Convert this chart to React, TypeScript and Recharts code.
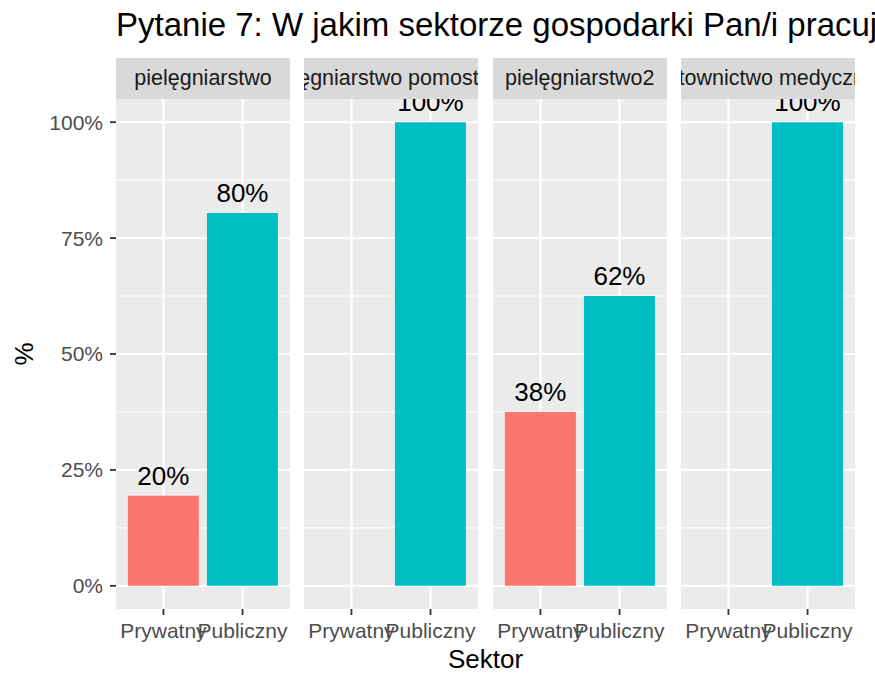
import { BarChart, Bar, XAxis, YAxis, CartesianGrid, Cell, LabelList } from 'recharts';

const FONT = '"Liberation Sans", Arial, Helvetica, sans-serif';

const title = 'Pytanie 7: W jakim sektorze gospodarki Pan/i pracuje?';
const xTitle = 'Sektor';
const yTitle = '%';

const panels = ['pielęgniarstwo', 'pielęgniarstwo pomostowe', 'pielęgniarstwo2', 'ratownictwo medyczne'];
const sectors = ['Prywatny', 'Publiczny'];
const sectorColors = ['#F8766D', '#00BFC4'];

// share (%) per panel
const prywatny: (number | null)[] = [19.4, null, 37.5, null];
const publiczny: (number | null)[] = [80.4, 100, 62.5, 100];
const prywatnyLabels = ['20%', '', '38%', ''];
const publicznyLabels = ['80%', '100%', '62%', '100%'];

const yTicks = [0, 25, 50, 75, 100];
const yMinor = [12.5, 37.5, 62.5, 87.5];

const PANEL_W = 174;
const PANEL_STEP = 188.4;
const PANEL_X0 = 116;
const STRIP_TOP = 58;
const STRIP_H = 41;
const PLOT_H = 510;
const XAXIS_H = 40;
const X_PAD = 7.9;

// vertical grid lines through the middle of each category band
function vGrid({ offset }: any) {
  const bw = (offset.width - 2 * X_PAD) / sectors.length;
  return sectors.map((_, i) => offset.left + X_PAD + bw * (i + 0.5));
}

function Panel({ index }: { index: number }) {
  const first = index === 0;
  const rows = sectors.map((sector, i) => ({
    sector,
    value: i === 0 ? prywatny[index] : publiczny[index],
    label: i === 0 ? prywatnyLabels[index] : publicznyLabels[index]
  }));
  const left = PANEL_X0 + index * PANEL_STEP;
  const chartLeft = first ? 0 : left;
  const width = first ? PANEL_X0 + PANEL_W : PANEL_W;

  return (
    <>
      <div style={{ position: 'absolute', left: chartLeft, top: STRIP_TOP }}>
        <BarChart
          width={width}
          height={STRIP_H + PLOT_H + XAXIS_H}
          data={rows}
          margin={{ top: STRIP_H, right: 0, bottom: 0, left: 0 }}
          barCategoryGap="5%"
        >
          <CartesianGrid
            fill="#EBEBEB"
            stroke="#FFFFFF"
            strokeWidth={1.1}
            vertical={false}
            horizontalValues={yMinor}
          />
          <CartesianGrid
            stroke="#FFFFFF"
            strokeWidth={2.2}
            horizontalValues={yTicks}
            verticalCoordinatesGenerator={vGrid}
          />
          <XAxis
            dataKey="sector"
            type="category"
            interval={0}
            height={XAXIS_H}
            padding={{ left: X_PAD, right: X_PAD }}
            axisLine={false}
            tickLine={{ stroke: '#333333', strokeWidth: 1.8 }}
            tickSize={6}
            tickMargin={8}
            tick={{ fontSize: 21, fill: '#4D4D4D', fontFamily: FONT }}
          />
          <YAxis
            hide={!first}
            width={first ? PANEL_X0 : 0}
            type="number"
            domain={[-5, 105]}
            ticks={yTicks}
            tickFormatter={(v) => `${v}%`}
            axisLine={false}
            tickLine={{ stroke: '#333333', strokeWidth: 1.8 }}
            tickSize={6}
            tickMargin={7}
            tick={{ fontSize: 21, fill: '#4D4D4D', fontFamily: FONT }}
          />
          <Bar dataKey="value" isAnimationActive={false}>
            {rows.map((r, i) => (
              <Cell key={r.sector} fill={sectorColors[i]} />
            ))}
            <LabelList
              dataKey="label"
              position="top"
              offset={11}
              fill="#000000"
              fontSize={26}
              fontFamily={FONT}
            />
          </Bar>
        </BarChart>
      </div>
      <div
        style={{
          position: 'absolute',
          left,
          top: STRIP_TOP,
          width: PANEL_W,
          height: STRIP_H,
          background: '#D9D9D9',
          display: 'flex',
          alignItems: 'center',
          justifyContent: 'center',
          overflow: 'hidden',
          whiteSpace: 'nowrap',
          fontFamily: FONT,
          fontSize: 21.5,
          color: '#1A1A1A'
        }}
      >
        <span style={{ flexShrink: 0 }}>{panels[index]}</span>
      </div>
    </>
  );
}

export default function App() {
  const plotMidY = STRIP_TOP + STRIP_H + PLOT_H / 2;
  const lastRight = PANEL_X0 + 3 * PANEL_STEP + PANEL_W;
  return (
    <div
      style={{
        position: 'absolute',
        left: 0,
        top: 0,
        width: 875,
        height: 673,
        background: '#FFFFFF',
        overflow: 'hidden',
        fontFamily: FONT
      }}
    >
      <svg width={875} height={673} style={{ position: 'absolute', left: 0, top: 0 }}>
        <text x={116} y={36} fontSize={33} fill="#000000" fontFamily={FONT}>
          {title}
        </text>
        <text x={(PANEL_X0 + lastRight) / 2} y={668} fontSize={26} textAnchor="middle" fill="#000000" fontFamily={FONT}>
          {xTitle}
        </text>
        <text
          x={33}
          y={plotMidY}
          fontSize={26}
          textAnchor="middle"
          fill="#000000"
          fontFamily={FONT}
          transform={`rotate(-90, 33, ${plotMidY})`}
        >
          {yTitle}
        </text>
      </svg>
      {panels.map((p, i) => (
        <Panel key={p} index={i} />
      ))}
    </div>
  );
}
